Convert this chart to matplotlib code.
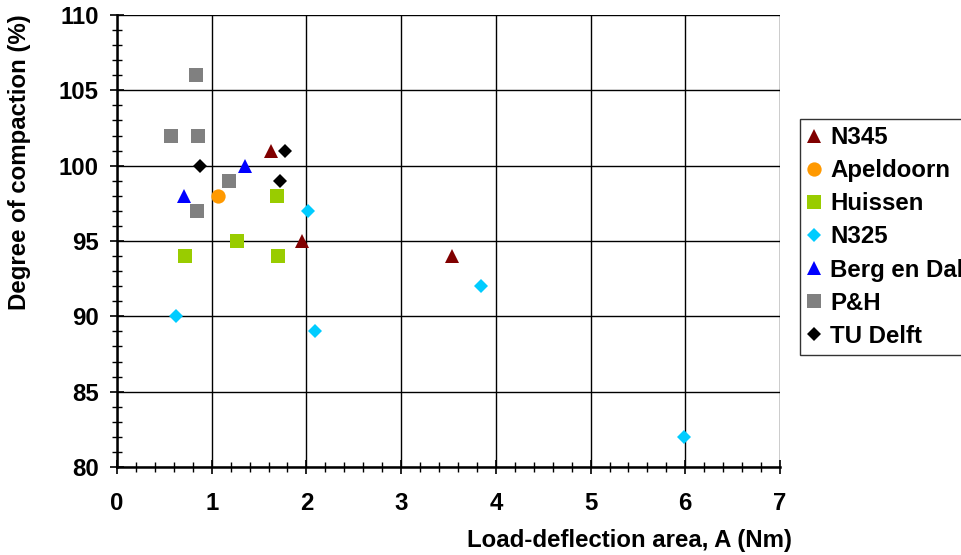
import matplotlib
matplotlib.use("Agg")
import matplotlib.pyplot as plt
from matplotlib.ticker import MultipleLocator

plt.rcParams['font.family'] = ['Liberation Sans', 'DejaVu Sans']
plt.rcParams['font.weight'] = 'bold'

# Data
n345_x = [1.63, 1.95, 3.54]
n345_y = [101, 95, 94]
apel_x = [1.07]
apel_y = [98]
huis_x = [0.72, 1.27, 1.69, 1.70]
huis_y = [94, 95, 98, 94]
n325_x = [0.62, 2.02, 2.09, 3.84, 5.99]
n325_y = [90, 97, 89, 92, 82]
berg_x = [0.71, 1.35]
berg_y = [98, 100]
ph_x = [0.83, 0.57, 0.86, 1.18, 0.84]
ph_y = [106, 102, 102, 99, 97]
tud_x = [0.88, 1.77, 1.72]
tud_y = [100, 101, 99]

series = [
    ("N345", n345_x, n345_y, '^', '#800000', 10.3),
    ("Apeldoorn", apel_x, apel_y, 'o', '#FF9900', 10.3),
    ("Huissen", huis_x, huis_y, 's', '#99CC00', 10.3),
    ("N325", n325_x, n325_y, 'D', '#00CCFF', 7.4),
    ("Berg en Dal", berg_x, berg_y, '^', '#0000FF', 10.3),
    ("P&H", ph_x, ph_y, 's', '#808080', 10.3),
    ("TU Delft", tud_x, tud_y, 'D', '#000000', 7.4),
]

FS = 17.3

fig = plt.figure(figsize=(9.62, 5.55), dpi=100)
ax = fig.add_axes([117/962, 1-467/555, (780-117)/962, (467-15)/555])

ax.set_xlim(0, 7)
ax.set_ylim(80, 110)
ax.xaxis.set_major_locator(MultipleLocator(1))
ax.xaxis.set_minor_locator(MultipleLocator(0.2))
ax.yaxis.set_major_locator(MultipleLocator(5))
ax.yaxis.set_minor_locator(MultipleLocator(1))

ax.grid(True, which='major', color='black', linewidth=1.0)
ax.set_axisbelow(True)

for name, xs, ys, m, c, ms in series:
    ax.plot(xs, ys, linestyle='none', marker=m, color=c, markersize=ms,
            markeredgewidth=0, label=name, clip_on=False, zorder=3)

for s in ['top', 'right']:
    ax.spines[s].set_visible(False)
for s in ['left', 'bottom']:
    ax.spines[s].set_linewidth(1.8)
    ax.spines[s].set_color('black')

ax.tick_params(which='major', direction='inout', length=10, width=1.2, labelsize=FS, color='black')
ax.tick_params(which='minor', direction='inout', length=7, width=1.0, color='black')
ax.tick_params(axis='x', which='major', pad=13)
ax.tick_params(axis='y', which='major', pad=8)
for lab in ax.get_xticklabels() + ax.get_yticklabels():
    lab.set_fontweight('bold')

ax.set_xlabel("Load-deflection area, A (Nm)", fontsize=FS, fontweight='bold')
ax.set_ylabel("Degree of compaction (%)", fontsize=FS, fontweight='bold')
ax.xaxis.set_label_coords((630-117)/663, (467-529)/452)
ax.yaxis.set_label_coords((31-117)/663, (467-162)/452)

leg = fig.legend(loc='upper left', bbox_to_anchor=(800/962, 1-119/555),
                 frameon=True, fancybox=False, shadow=False,
                 handlelength=0.6, handletextpad=0.35, labelspacing=0.42,
                 borderpad=0.3, borderaxespad=0, prop={'weight': 'bold', 'size': FS})
leg.get_frame().set_edgecolor('black')
leg.get_frame().set_linewidth(1.0)

fig.savefig("out.png", dpi=100)
